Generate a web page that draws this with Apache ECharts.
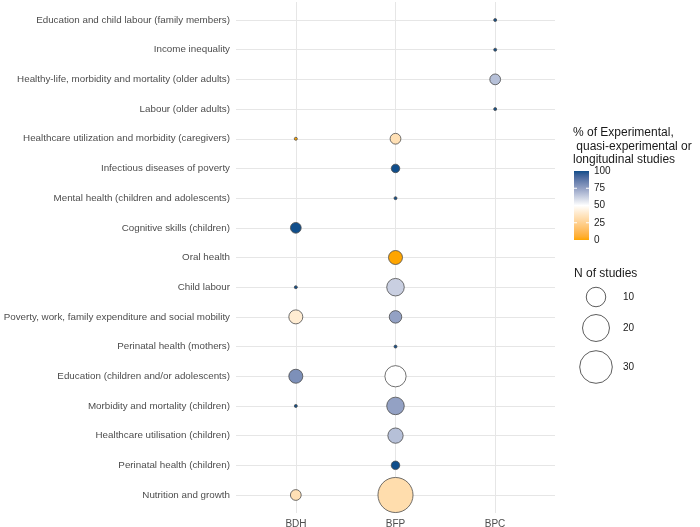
<!DOCTYPE html>
<html>
<head>
    <script src="https://cdn.jsdelivr.net/npm/echarts@6/dist/echarts.min.js"></script>
</head>
<body style="margin:0">
<div id="chart" style="width:700px;height:527px"></div>
<script>
    // outcomes, top to bottom
    var outcomes = [
        'Education and child labour (family members)',
        'Income inequality',
        'Healthy-life, morbidity and mortality (older adults)',
        'Labour (older adults)',
        'Healthcare utilization and morbidity (caregivers)',
        'Infectious diseases of poverty',
        'Mental health (children and adolescents)',
        'Cognitive skills (children)',
        'Oral health',
        'Child labour',
        'Poverty, work, family expenditure and social mobility',
        'Perinatal health (mothers)',
        'Education (children and/or adolescents)',
        'Morbidity and mortality (children)',
        'Healthcare utilisation (children)',
        'Perinatal health (children)',
        'Nutrition and growth'
    ];
    var programmes = ['BDH', 'BFP', 'BPC'];

    // N of studies / % experimental per outcome (null = no studies)
    var bdhN   = [null, null, null, null, 1, null, null, 3, null, 1, 5, null, 5, 1, null, null, 3];
    var bdhPct = [null, null, null, null, 0, null, null, 100, null, 100, 40, null, 80, 100, null, null, 33.3];
    var bfpN   = [null, null, null, null, 3, 2, 1, null, 5, 8, 4, 1, 12, 8, 6, 2, 35];
    var bfpPct = [null, null, null, null, 33.3, 100, 100, null, 0, 62.5, 75, 100, 50, 75, 66.7, 100, 31.4];
    var bpcN   = [1, 1, 3, 1, null, null, null, null, null, null, null, null, null, null, null, null, null];
    var bpcPct = [100, 100, 66.7, 100, null, null, null, null, null, null, null, null, null, null, null, null, null];

    var sizeBreaks = [10, 20, 30];
    var pctBreaks = [0, 25, 50, 75, 100];

    // ---- colour helpers (gradient2 interpolated in Lab) ----
    function toLin(c) { c /= 255; return c <= 0.04045 ? c / 12.92 : Math.pow((c + 0.055) / 1.055, 2.4); }
    function toSrgb(c) {
        var v = c <= 0.0031308 ? 12.92 * c : 1.055 * Math.pow(c, 1 / 2.4) - 0.055;
        return Math.round(Math.max(0, Math.min(1, v)) * 255);
    }
    function hexToLab(hex) {
        var r = toLin(parseInt(hex.substr(1, 2), 16)), g = toLin(parseInt(hex.substr(3, 2), 16)), b = toLin(parseInt(hex.substr(5, 2), 16));
        var x = (0.4124564 * r + 0.3575761 * g + 0.1804375 * b) / 0.95047;
        var y = (0.2126729 * r + 0.7151522 * g + 0.0721750 * b);
        var z = (0.0193339 * r + 0.1191920 * g + 0.9503041 * b) / 1.08883;
        var f = function (t) { return t > 0.008856 ? Math.cbrt(t) : 7.787 * t + 16 / 116; };
        var fx = f(x), fy = f(y), fz = f(z);
        return [116 * fy - 16, 500 * (fx - fy), 200 * (fy - fz)];
    }
    function labToHex(lab) {
        var fy = (lab[0] + 16) / 116, fx = fy + lab[1] / 500, fz = fy - lab[2] / 200;
        var inv = function (f) { var f3 = f * f * f; return f3 > 0.008856 ? f3 : (f - 16 / 116) / 7.787; };
        var x = inv(fx) * 0.95047, y = inv(fy), z = inv(fz) * 1.08883;
        var r = 3.2404542 * x - 1.5371385 * y - 0.4985314 * z;
        var g = -0.9692660 * x + 1.8760108 * y + 0.0415560 * z;
        var b = 0.0556434 * x - 0.2040259 * y + 1.0572252 * z;
        return 'rgb(' + toSrgb(r) + ',' + toSrgb(g) + ',' + toSrgb(b) + ')';
    }
    var labLow = hexToLab('#FFA500'), labMid = hexToLab('#FFFFFF'), labHigh = hexToLab('#104E8B');
    function pctColor(p) {
        var a, b, t;
        if (p < 50) { a = labLow; b = labMid; t = p / 50; } else { a = labMid; b = labHigh; t = (p - 50) / 50; }
        return labToHex([a[0] + (b[0] - a[0]) * t, a[1] + (b[1] - a[1]) * t, a[2] + (b[2] - a[2]) * t]);
    }
    function sizeOf(n) { return 3 + 5.5 * Math.sqrt(n - 1); }

    // build scatter data: [x index, outcome index, N, pct]
    var points = [];
    [[bdhN, bdhPct], [bfpN, bfpPct], [bpcN, bpcPct]].forEach(function (p, xi) {
        for (var i = 0; i < outcomes.length; i++) {
            if (p[0][i] != null) points.push([xi, i, p[0][i], p[1][i]]);
        }
    });

    var chart = echarts.init(document.getElementById('chart'));
    var txt = '#4D4D4D', grid = '#E6E6E6', font = 'Liberation Sans, Arial, sans-serif';

    // legend graphics
    var gfx = [];
    ['% of Experimental,', ' quasi-experimental or', 'longitudinal studies'].forEach(function (line, i) {
        gfx.push({ type: 'text', x: 573, y: 133 + i * 13.5, style: { text: line, fontSize: 12, fill: '#1A1A1A', fontFamily: font, verticalAlign: 'middle' } });
    });
    var barX = 574, barTop = 171, barH = 69, barW = 15;
    var stops = [];
    for (var s = 0; s <= 20; s++) stops.push({ offset: s / 20, color: pctColor(100 - s * 5) });
    gfx.push({ type: 'rect', shape: { x: barX, y: barTop, width: barW, height: barH }, style: { fill: new echarts.graphic.LinearGradient(0, 0, 0, 1, stops) } });
    pctBreaks.forEach(function (v) {
        var y = barTop + barH * (1 - v / 100);
        if (v > 0 && v < 100) {
            gfx.push({ type: 'line', shape: { x1: barX, y1: y, x2: barX + 3, y2: y }, style: { stroke: '#fff', lineWidth: 1 } });
            gfx.push({ type: 'line', shape: { x1: barX + barW - 3, y1: y, x2: barX + barW, y2: y }, style: { stroke: '#fff', lineWidth: 1 } });
        }
        gfx.push({ type: 'text', x: 594, y: y, style: { text: String(v), fontSize: 10, fill: '#1A1A1A', fontFamily: font, verticalAlign: 'middle' } });
    });
    gfx.push({ type: 'text', x: 574, y: 274, style: { text: 'N of studies', fontSize: 12, fill: '#1A1A1A', fontFamily: font, verticalAlign: 'middle' } });
    var keyY = [297, 328, 367];
    sizeBreaks.forEach(function (v, i) {
        gfx.push({ type: 'circle', shape: { cx: 596, cy: keyY[i], r: sizeOf(v) / 2 }, style: { fill: '#fff', stroke: '#333', lineWidth: 0.8 } });
        gfx.push({ type: 'text', x: 623, y: keyY[i], style: { text: String(v), fontSize: 10, fill: '#1A1A1A', fontFamily: font, verticalAlign: 'middle' } });
    });

    var option = {
        animation: false,
        backgroundColor: '#fff',
        textStyle: { fontFamily: font },
        grid: [
            { left: 236, right: 145, top: 20, bottom: 32, outerBoundsMode: 'none', containLabel: false },
            { left: 296, right: 205, top: 2, bottom: 14, outerBoundsMode: 'none', containLabel: false }
        ],
        xAxis: [
            { gridIndex: 0, type: 'value', min: -0.6, max: 2.6, show: false },
            {
                gridIndex: 1, type: 'category', data: programmes, boundaryGap: false,
                axisLine: { show: false }, axisTick: { show: false },
                axisLabel: { color: txt, fontSize: 10, margin: 3 },
                splitLine: { show: true, lineStyle: { color: grid, width: 1 } }
            }
        ],
        yAxis: [
            {
                gridIndex: 0, type: 'category', data: outcomes, inverse: true, boundaryGap: false,
                axisLine: { show: false }, axisTick: { show: false },
                axisLabel: { color: txt, fontSize: 9.8, margin: 6, interval: 0 },
                splitLine: { show: true, lineStyle: { color: grid, width: 1 } }
            },
            { gridIndex: 1, type: 'value', show: false }
        ],
        series: [{
            type: 'scatter',
            xAxisIndex: 0, yAxisIndex: 0,
            data: points,
            symbolSize: function (d) { return sizeOf(d[2]); },
            itemStyle: {
                color: function (p) { return pctColor(p.data[3]); },
                borderColor: '#4D4D4D', borderWidth: 0.8, opacity: 1
            },
            z: 5
        }],
        graphic: gfx
    };
    chart.setOption(option);
</script>
</body>
</html>
